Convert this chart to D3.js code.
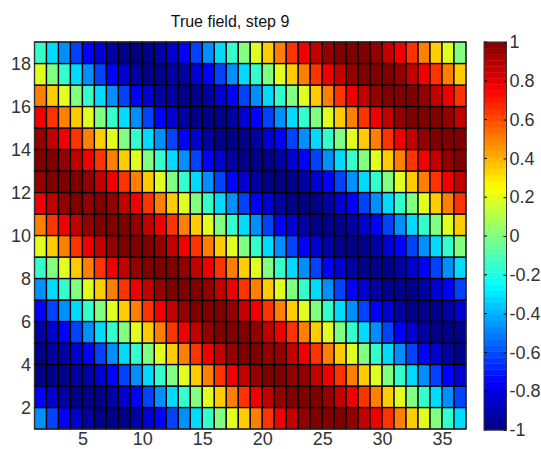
<!DOCTYPE html>
<html><head><meta charset="utf-8">
<script src="https://cdn.jsdelivr.net/npm/d3@7"></script>
<style>html,body{margin:0;padding:0;background:#fff}svg{display:block}text{font-family:"Liberation Sans",Arial,sans-serif}</style>
</head><body><svg id="c" width="541" height="449"></svg>
<script>
const titleText = "True field, step 9";
const xTicks = [5,10,15,20,25,30,35];
const yTicks = [2,4,6,8,10,12,14,16,18];
const cbTicks = [-1,-0.8,-0.6,-0.4,-0.2,0,0.2,0.4,0.6,0.8,1];
const row18 = [-.15,-.32,-.47,-.62,-.75,-.84,-.93,-.98,-1,-.98,-.93,-.84,-.75,-.62,-.47,-.32,-.15,0,.19,.35,.5,.65,.78,.87,.96,1,1,1,.96,.87,.78,.65,.5,.35,.19,0];
const row17 = [.19,0,-.15,-.32,-.47,-.62,-.75,-.84,-.93,-.98,-.98,-.93,-.93,-.84,-.75,-.62,-.47,-.32,-.15,0,.19,.35,.5,.65,.78,.87,.96,1,1,1,.96,.87,.78,.65,.5,.35];
const row16 = [.5,.35,.19,0,-.15,-.32,-.47,-.62,-.75,-.84,-.93,-.93,-.98,-.98,-.93,-.84,-.75,-.62,-.47,-.32,-.15,0,.19,.35,.5,.65,.78,.87,.96,1,1,1,.96,.87,.78,.65];
const row15 = [.78,.65,.5,.35,.19,0,-.15,-.32,-.47,-.62,-.75,-.84,-.93,-.98,-.98,-.98,-.93,-.84,-.75,-.62,-.47,-.32,-.15,0,.19,.35,.5,.65,.78,.87,.96,1,1,1,.96,.87];
const row14 = [.96,.87,.78,.65,.5,.35,.19,0,-.15,-.32,-.47,-.62,-.75,-.84,-.93,-.98,-.98,-.98,-.93,-.84,-.75,-.62,-.47,-.32,-.15,0,.19,.35,.5,.65,.78,.87,.96,1,1,1];
const row13 = [1,1,.96,.87,.78,.65,.5,.35,.19,0,-.15,-.32,-.47,-.62,-.75,-.84,-.93,-.98,-.98,-.98,-.93,-.84,-.75,-.62,-.47,-.32,-.15,0,.19,.35,.5,.65,.78,.87,.96,1];
const row12 = [.96,1,1,1,.96,.87,.78,.65,.5,.35,.19,0,-.15,-.32,-.47,-.62,-.75,-.84,-.93,-.98,-1,-.98,-.93,-.84,-.75,-.62,-.47,-.32,-.15,0,.19,.35,.5,.65,.78,.87];
const row11 = [.78,.87,.96,1,.96,1,.96,.87,.78,.65,.5,.35,.19,0,-.15,-.32,-.47,-.62,-.75,-.84,-.93,-.98,-1,-.98,-.93,-.84,-.75,-.62,-.47,-.32,-.15,0,.19,.35,.5,.65];
const row10 = [.5,.65,.78,.87,.96,1,1,1,.96,.87,.78,.65,.5,.35,.19,0,-.15,-.32,-.47,-.62,-.75,-.84,-.93,-.98,-.98,-.98,-.93,-.84,-.75,-.62,-.47,-.32,-.15,0,.19,.35];
const row9 = [.19,.35,.5,.65,.78,.87,.96,1,1,1,.96,.87,.78,.65,.5,.35,.19,0,-.15,-.32,-.47,-.62,-.75,-.84,-.93,-.98,-.98,-.98,-.93,-.84,-.75,-.62,-.47,-.32,-.15,0];
const row8 = [-.15,0,.19,.35,.5,.65,.78,.87,.96,1,1,1,.96,.87,.78,.65,.5,.35,.19,0,-.15,-.32,-.47,-.62,-.75,-.84,-.93,-.98,-.98,-.98,-.93,-.84,-.75,-.62,-.47,-.32];
const row7 = [-.47,-.32,-.15,0,.19,.35,.5,.65,.78,.87,.96,1,1,1,.96,.87,.78,.65,.5,.35,.19,0,-.15,-.32,-.47,-.62,-.75,-.84,-.93,-.98,-.98,-.98,-.93,-.84,-.75,-.62];
const row6 = [-.75,-.62,-.47,-.32,-.15,0,.19,.35,.5,.65,.78,.87,.96,1,1,1,.96,.87,.78,.65,.5,.35,.19,0,-.15,-.32,-.47,-.62,-.75,-.84,-.93,-.98,-.98,-.98,-.93,-.84];
const row5 = [-.93,-.84,-.75,-.62,-.47,-.32,-.15,0,.19,.35,.5,.65,.78,.87,.96,1,1,1,.96,.87,.78,.65,.5,.35,.19,0,-.15,-.32,-.47,-.62,-.75,-.84,-.93,-.98,-.98,-.98];
const row4 = [-.98,-.93,-.93,-.84,-.75,-.62,-.47,-.32,-.15,0,.19,.35,.5,.65,.78,.87,.96,1,1,.96,.96,.87,.78,.65,.5,.35,.19,0,-.15,-.32,-.47,-.62,-.75,-.84,-.93,-.98];
const row3 = [-.98,-.98,-.98,-.93,-.93,-.84,-.75,-.62,-.47,-.32,-.15,0,.19,.35,.5,.65,.78,.87,.96,1,1,.96,.96,.87,.78,.65,.5,.35,.19,0,-.15,-.32,-.47,-.62,-.75,-.84];
const row2 = [-.75,-.84,-.93,-.98,-.98,-.98,-.93,-.84,-.75,-.62,-.47,-.32,-.15,0,.19,.35,.5,.65,.78,.87,.96,1,1,1,.96,.87,.78,.65,.5,.35,.19,0,-.15,-.32,-.47,-.62];
const row1 = [-.47,-.62,-.75,-.84,-.93,-.98,-.98,-.98,-.93,-.84,-.75,-.62,-.47,-.32,-.15,0,.19,.35,.5,.65,.78,.87,.96,1,1,1,.96,.87,.78,.65,.5,.35,.19,0,-.15,-.32];
const field = [row1,row2,row3,row4,row5,row6,row7,row8,row9,row10,row11,row12,row13,row14,row15,row16,row17,row18];

const svg = d3.select("#c");
const L=34.5,R=466,T=42,B=429,CL=484,CR=506.5;
const x = d3.scaleLinear().domain([1,37]).range([L,R]);
const y = d3.scaleLinear().domain([1,19]).range([B,T]);
const cy = d3.scaleLinear().domain([-1,1]).range([B+1,T]);
const jet = d3.scaleLinear().domain([-1,-.75,-.25,.25,.75,1]).range(["#000080","#0000ff","#00ffff","#ffff00","#ff0000","#800000"]).clamp(true);
const ink="#333", fs=18;

const cells = field.flatMap((r,j)=>r.map((v,i)=>({i:i+1,j:j+1,v})));
svg.append("g").selectAll("rect").data(cells).join("rect")
  .attr("x",d=>x(d.i)).attr("y",d=>y(d.j+1))
  .attr("width",d=>x(d.i+1)-x(d.i)).attr("height",d=>y(d.j)-y(d.j+1))
  .attr("fill",d=>jet(d.v)).attr("stroke","#000").attr("stroke-width",1.3);

const ax = svg.append("g").attr("transform",`translate(0,${B})`).call(d3.axisBottom(x).tickValues(xTicks).tickFormat(d3.format("d")).tickSize(0).tickPadding(3));
const ay = svg.append("g").attr("transform",`translate(${L},0)`).call(d3.axisLeft(y).tickValues(yTicks).tickFormat(d3.format("d")).tickSize(0).tickPadding(3.5));
[ax,ay].forEach(g=>{g.select(".domain").remove();g.selectAll("text").attr("font-size",fs).attr("fill",ink).style("font-family",'"Liberation Sans"');});
svg.append("rect").attr("x",L).attr("y",T).attr("width",R-L).attr("height",B-T).attr("fill","none").attr("stroke","#333").attr("stroke-width",1);

const levels = d3.range(64).map(k=>k);
const lv = d3.scaleLinear().domain([0,64]).range([-1,1]);
svg.append("g").selectAll("rect").data(levels).join("rect")
  .attr("x",CL).attr("width",CR-CL)
  .attr("y",k=>cy(lv(k+1))).attr("height",k=>cy(lv(k))-cy(lv(k+1))+.4)
  .attr("fill",k=>jet(lv(k+.5)));
const cg = svg.append("g").attr("transform",`translate(${CR},0)`).call(d3.axisRight(cy).tickValues(cbTicks).tickFormat(d=>String(d)).tickSize(-3).tickPadding(3));
cg.select(".domain").remove();
cg.selectAll("line").attr("stroke","#000");
cg.selectAll("text").attr("font-size",fs).attr("fill",ink).style("font-family",'"Liberation Sans"');
svg.append("g").selectAll("line").data(cbTicks).join("line")
  .attr("x1",CL).attr("x2",CL+3).attr("y1",d=>cy(d)).attr("y2",d=>cy(d)).attr("stroke","#000");
svg.append("rect").attr("x",CL).attr("y",T).attr("width",CR-CL).attr("height",B+1-T).attr("fill","none").attr("stroke","#333").attr("stroke-width",1);

svg.append("text").attr("x",230).attr("y",27).attr("text-anchor","middle").attr("font-size",16).attr("fill","#111").text(titleText);
</script></body></html>
